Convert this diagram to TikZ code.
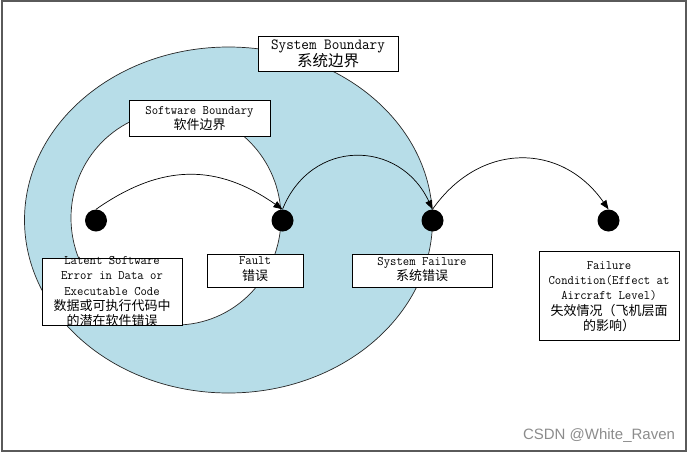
\documentclass[tikz,border=0pt]{standalone}
\usepackage{fontspec}
\setmainfont{Latin Modern Mono}[FakeStretch=0.95]
\newfontfamily\cjk{Noto Sans CJK SC}
\newfontfamily\wmfont{Liberation Sans}
\usetikzlibrary{arrows.meta}
\definecolor{sysblue}{RGB}{183,221,232}
\definecolor{framegray}{RGB}{90,90,90}
\definecolor{wmgray}{RGB}{140,140,140}
\tikzset{
  frame/.style={draw=framegray, line width=1.2pt},
  ell/.style={draw=black!85, line width=0.7pt},
  dot/.style={circle, fill=black, minimum size=22pt, inner sep=0pt},
  arr/.style={draw=black, line width=0.7pt, -{Triangle[length=9pt,width=7pt]}},
  box/.style={draw=black, fill=white, line width=0.8pt, inner sep=0pt},
  lbl/.style={align=center, inner sep=0pt, font=\fontsize{13}{15.3}\selectfont},
  biglbl/.style={align=center, inner sep=0pt, font=\fontsize{15.5}{17}\selectfont},
  wm/.style={inner sep=0pt, text=wmgray, font=\wmfont\fontsize{15}{18}\selectfont}
}
\begin{document}
\begin{tikzpicture}[x=1pt,y=-1pt]
\useasboundingbox (0,0) rectangle (692,453);
\draw[frame] (2,1) rectangle (686,451);
% boundaries
\draw[ell, fill=sysblue] (228.5,220) ellipse [x radius=204pt, y radius=173pt];
\draw[ell, fill=white] (176,218) ellipse [x radius=105pt, y radius=107pt];
% dots
\node[dot] (d1) at (96,220.5) {};
\node[dot] (d2) at (282.5,220.5) {};
\node[dot] (d3) at (432.5,220.5) {};
\node[dot] (d4) at (608.5,220.5) {};
% connectors
\draw[arr] (d1.north) to[out=35,in=145,looseness=1.1] (d2.north);
\draw[arr] (d2.north) to[out=68,in=115,looseness=1.32] (d3.north);
\draw[arr] (d3.north) to[out=55,in=125,looseness=1.2] (d4.north);
% boxes
\node[box, minimum width=140pt, minimum height=35pt] (sysb) at (328,53.5) {};
\node[biglbl] (syst) at (328,53.5) {System Boundary\\{\cjk 系统边界}};
\node[box, minimum width=141pt, minimum height=36pt] (swb) at (199.5,118) {};
\node[lbl] (swt) at (199.5,118.3) {Software Boundary\\{\cjk 软件边界}};
\node[box, minimum width=140pt, minimum height=67pt] (latb) at (112,291.5) {};
\node[lbl] (latt) at (112,291.5) {Latent Software\\Error in Data or\\Executable Code\\{\cjk 数据或可执行代码中}\\{\cjk 的潜在软件错误}};
\node[box, minimum width=96pt, minimum height=33pt] (fab) at (255,270.5) {};
\node[lbl] (fat) at (255,269) {Fault\\{\cjk 错误}};
\node[box, minimum width=140pt, minimum height=33pt] (sfb) at (422,270.5) {};
\node[lbl] (sft) at (422,269.7) {System Failure\\{\cjk 系统错误}};
\node[box, minimum width=140pt, minimum height=89pt] (fcb) at (609,295.5) {};
\node[lbl] (fct) at (609,296.5) {Failure\\Condition(Effect at\\Aircraft Level)\\{\cjk 失效情况（飞机层面}\\{\cjk 的影响）}};
% watermark
\node[wm] (wmk) at (599,436) {CSDN @White\_Raven};
\end{tikzpicture}
\end{document}
